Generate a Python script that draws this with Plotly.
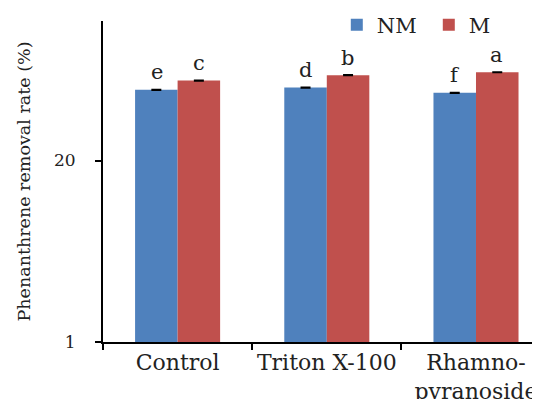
import math
import plotly.graph_objects as go

categories = ["Control", "Triton X-100", "Rhamno-<br>pyranoside"]
nm_values = [64.2, 66.6, 61.1]
m_values = [74.8, 81.8, 85.9]
nm_err = [0.4, 0.4, 0.4]
m_err = [0.4, 0.4, 0.4]
nm_letters = ["e", "d", "f"]
m_letters = ["c", "b", "a"]
y_tick_vals = [1, 20]
y_tick_text = ["1", "20"]

FONT = "DejaVu Serif"
BLUE = "#4F81BD"
RED = "#C0504D"

fig = go.Figure()
fig.add_trace(go.Bar(
    x=categories, y=nm_values, name="NM",
    marker=dict(color=BLUE, line=dict(width=0)),
    error_y=dict(type="data", array=nm_err, color="black", thickness=1.5, width=5),
))
fig.add_trace(go.Bar(
    x=categories, y=m_values, name="M",
    marker=dict(color=RED, line=dict(width=0)),
    error_y=dict(type="data", array=m_err, color="black", thickness=1.5, width=5),
))

annotations = []
for i, cat in enumerate(categories):
    for vals, errs, letters, shift in ((nm_values, nm_err, nm_letters, -21),
                                       (m_values, m_err, m_letters, 21)):
        annotations.append(dict(
            x=cat, y=math.log10(vals[i] + errs[i]), text=letters[i],
            xref="x", yref="y", showarrow=False, xshift=shift, yshift=3,
            yanchor="bottom", font=dict(family=FONT, size=21, color="#222"),
        ))

# the page body has an 8px default margin, so the figure is sized to fit the window
fig.update_layout(
    width=532, height=391,
    margin=dict(l=95, r=0, t=13, b=57, autoexpand=False),
    paper_bgcolor="white", plot_bgcolor="white",
    barmode="group", bargap=0.43, bargroupgap=0,
    font=dict(family=FONT, color="#222"),
    showlegend=True,
    legend=dict(orientation="h", xref="paper", yref="paper",
                x=0.535, y=0.9876, xanchor="left", yanchor="middle",
                font=dict(family=FONT, size=21, color="#222"),
                entrywidth=47, bgcolor="rgba(0,0,0,0)"),
    annotations=annotations,
)
fig.update_xaxes(
    range=[-0.5, 2.429], showline=True, linecolor="black", linewidth=2,
    ticks="outside", tickson="boundaries", ticklen=6, tickwidth=2, tickcolor="black",
    tickfont=dict(family=FONT, size=22, color="#222"), showgrid=False,
    tickangle=0, ticklabelstandoff=0,
)
fig.update_yaxes(
    type="log", range=[0, math.log10(200)], showline=True, linecolor="black", linewidth=2,
    ticks="outside", ticklen=6, tickwidth=2, tickcolor="black",
    tickvals=y_tick_vals, ticktext=y_tick_text, showgrid=False, zeroline=False,
    tickfont=dict(family=FONT, size=17, color="#222"), ticklabelstandoff=16,
    title=dict(text="Phenanthrene removal rate (%)", standoff=19,
               font=dict(family=FONT, size=17.5, color="#222")),
)
fig.write_html("out.html")
